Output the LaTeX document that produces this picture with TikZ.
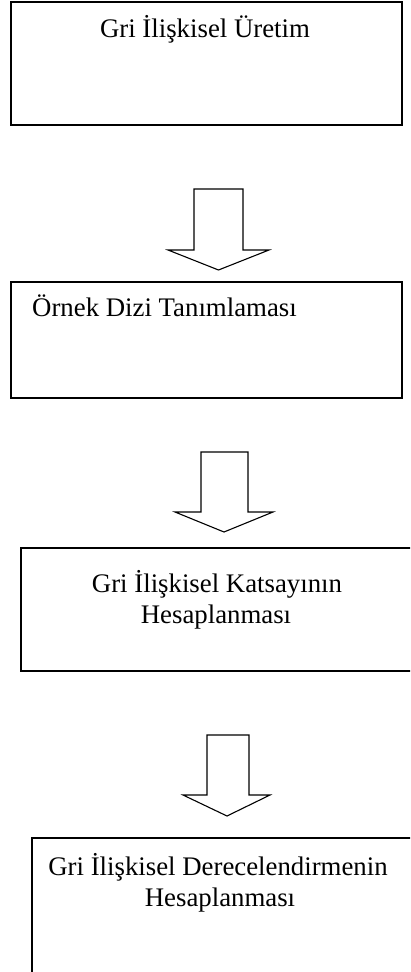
\documentclass[tikz,border=0pt]{standalone}
\usepackage{fontspec}
\setmainfont{Liberation Serif}
\begin{document}
\begin{tikzpicture}[x=1pt,y=-1pt,
  stagebox/.style={draw=black,line width=1.6pt,fill=none},
  stagetext/.style={inner sep=0pt,anchor=base,align=center,
    font=\fontsize{26.8}{31}\selectfont},
  blockarrow/.style={draw=black,line width=1.1pt,fill=white,line join=miter}]
\useasboundingbox (0,0) rectangle (410,972);
\clip (0,0) rectangle (410,972);

% process stages
\draw[stagebox] (11,2) rectangle (402,125);
\coordinate (box1) at (206,63);
\node[stagetext] (t1) at (205,37) {Gri İlişkisel Üretim};

\draw[stagebox] (11,282) rectangle (402,398);
\coordinate (box2) at (206,340);
\node[stagetext,anchor=base west] (t2) at (32,316) {Örnek Dizi Tanımlaması};

\draw[stagebox] (21,548) rectangle (414,671);
\coordinate (box3) at (217,610);
\node[stagetext] (t3) at (217,592) {Gri İlişkisel Katsayının};
\node[stagetext] (t3b) at (216,623) {Hesaplanması};

\draw[stagebox] (32,838) rectangle (414,990);
\coordinate (box4) at (221,900);
\node[stagetext] (t4) at (218,875) {Gri İlişkisel Derecelendirmenin};
\node[stagetext] (t4b) at (220,906) {Hesaplanması};

% hollow block arrows between the stages
\coordinate (a1) at (218.5,189);
\draw[blockarrow] (a1) ++(-24.5,0) -- ++(49,0) -- ++(0,61) -- ++(26,0)
  -- (218.5,270) -- (168,250) -- ++(26,0) -- cycle;

\coordinate (a2) at (224.5,452);
\draw[blockarrow] (a2) ++(-23.5,0) -- ++(47,0) -- ++(0,60) -- ++(25,0)
  -- (224,532) -- (175,512) -- ++(26,0) -- cycle;

\coordinate (a3) at (228,735);
\draw[blockarrow] (a3) ++(-21,0) -- ++(42,0) -- ++(0,60) -- ++(21,0)
  -- (227,816) -- (183,795) -- ++(24,0) -- cycle;
\end{tikzpicture}
\end{document}
